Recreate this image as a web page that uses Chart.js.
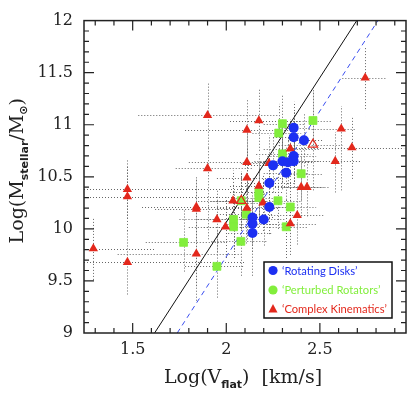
<!DOCTYPE html>
<html>
<head>
<meta charset="utf-8">
<script src="https://cdn.jsdelivr.net/npm/chart.js@4/dist/chart.umd.min.js"></script>
<style>
  html, body { margin: 0; padding: 0; background: #fff; }
  canvas { display: block; }
</style>
</head>
<body>
<canvas id="c" width="418" height="400"></canvas>
<script>
// ---------------- DATA ----------------
const xTicks = [1.5, 2, 2.5];
const yTicks = [9, 9.5, 10, 10.5, 11, 11.5, 12];

// 'Rotating Disks'
const rdX    = [2.36, 2.36, 2.415, 2.36, 2.36, 2.25, 2.30, 2.33, 2.32, 2.23, 2.23, 2.20, 2.14, 2.14, 2.14];
const rdY    = [10.97, 10.88, 10.85, 10.70, 10.65, 10.61, 10.65, 10.64, 10.54, 10.44, 10.21, 10.09, 10.11, 10.05, 9.96];
const rdXlo  = [2.28, 2.25, 2.33, 2.22, 2.20, 2.10, 2.15, 2.18, 2.20, 2.10, 2.12, 2.08, 2.02, 1.99, 2.01];
const rdXhi  = [2.45, 2.44, 2.52, 2.48, 2.50, 2.38, 2.42, 2.46, 2.44, 2.36, 2.33, 2.31, 2.26, 2.27, 2.25];
const rdYlo  = [10.70, 10.62, 10.60, 10.45, 10.40, 10.35, 10.38, 10.40, 10.28, 10.18, 9.95, 9.84, 9.85, 9.78, 9.55];
const rdYhi  = [11.22, 11.12, 11.10, 10.95, 10.90, 10.88, 10.92, 10.88, 10.80, 10.70, 10.46, 10.34, 10.36, 10.30, 10.22];

// 'Perturbed Rotators'
const prX    = [2.30, 2.28, 2.463, 2.30, 2.40, 2.174, 2.174, 2.276, 2.08, 2.342, 2.107, 2.039, 2.039, 2.32, 2.078, 1.772, 1.95];
const prY    = [11.01, 10.92, 11.04, 10.72, 10.53, 10.35, 10.30, 10.27, 10.27, 10.21, 10.14, 10.09, 10.02, 10.02, 9.88, 9.87, 9.64];
const prXlo  = [2.20, 2.14, 2.36, 2.16, 2.28, 2.02, 2.05, 2.15, 1.92, 2.22, 1.95, 1.85, 1.88, 2.20, 1.92, 1.57, 1.78];
const prXhi  = [2.42, 2.40, 2.56, 2.45, 2.52, 2.30, 2.29, 2.40, 2.22, 2.48, 2.25, 2.20, 2.18, 2.44, 2.22, 2.00, 2.10];
const prYlo  = [10.75, 10.65, 10.78, 10.45, 10.28, 10.08, 10.02, 10.00, 9.98, 9.95, 9.86, 9.80, 9.72, 9.72, 9.55, 9.59, 9.34];
const prYhi  = [11.28, 11.20, 11.33, 11.00, 10.78, 10.62, 10.58, 10.54, 10.55, 10.48, 10.42, 10.38, 10.30, 10.28, 10.20, 10.19, 9.98];

// 'Complex Kinematics'  (open = hollow symbol)
const ckX    = [1.90, 2.174, 2.11, 2.614, 2.742, 2.463, 2.342, 2.671, 2.582, 2.11, 2.228, 1.90, 2.11, 2.174, 2.40, 2.431, 1.472, 1.472, 2.036, 2.196, 1.84, 1.84, 2.11, 2.379, 1.95, 1.996, 2.342, 1.29, 1.84, 1.472, 2.08];
const ckY    = [11.09, 11.04, 10.95, 10.96, 11.45, 10.81, 10.77, 10.78, 10.65, 10.64, 10.63, 10.58, 10.49, 10.41, 10.40, 10.40, 10.38, 10.31, 10.27, 10.25, 10.21, 10.19, 10.20, 10.13, 10.09, 10.02, 10.05, 9.81, 9.76, 9.68, 10.27];
const ckXlo  = [1.53, 2.02, 1.78, 2.44, 2.62, 2.28, 2.20, 2.34, 2.42, 1.80, 2.08, 1.73, 1.95, 2.02, 2.26, 2.30, 1.24, 1.24, 1.85, 2.05, 1.55, 1.62, 1.95, 2.24, 1.75, 1.80, 2.20, 1.24, 1.42, 1.24, 1.95];
const ckXhi  = [2.28, 2.40, 2.34, 2.69, 2.855, 2.62, 2.50, 2.95, 2.72, 2.39, 2.36, 2.14, 2.30, 2.32, 2.52, 2.55, 2.12, 2.05, 2.20, 2.34, 2.12, 2.05, 2.28, 2.52, 2.15, 2.18, 2.48, 1.62, 2.08, 2.10, 2.22];
const ckYlo  = [10.78, 10.75, 10.62, 10.37, 11.15, 10.37, 10.50, 10.48, 10.35, 10.35, 10.35, 9.90, 10.18, 10.12, 10.12, 10.12, 10.10, 9.98, 9.98, 9.98, 9.88, 9.31, 9.90, 9.85, 9.78, 9.72, 9.75, 9.51, 9.45, 9.37, 10.00];
const ckYhi  = [11.40, 11.35, 11.24, 11.18, 11.74, 11.35, 11.05, 11.07, 10.93, 10.93, 10.90, 10.78, 10.78, 10.70, 10.68, 10.66, 10.67, 10.60, 10.56, 10.52, 10.51, 10.48, 10.50, 10.42, 10.38, 10.30, 10.32, 10.10, 10.05, 10.00, 10.55];
const ckOpen = [0, 0, 0, 0, 0, 1, 0, 0, 0, 0, 0, 0, 0, 0, 0, 0, 0, 0, 0, 0, 0, 0, 0, 0, 0, 0, 0, 0, 0, 0, 1];

// relations (two end points each)
const solidX  = [1.617, 2.697];
const solidY  = [9, 12];
const dashedX = [1.738, 2.81];
const dashedY = [9, 12];

const legendLabels = ['\u2018Rotating Disks\u2019', '\u2018Perturbed Rotators\u2019', '\u2018Complex Kinematics\u2019'];

// ---------------- STYLE ----------------
const BLUE = '#1c2ff2';
const GREEN = '#82ee3c';
const RED = '#e3281c';
const SERIF = '"DejaVu Serif", serif';

const pts = (xs, ys) => xs.map((x, i) => ({ x: x, y: ys[i] }));

const series = [
  { x: rdX, y: rdY, xlo: rdXlo, xhi: rdXhi, ylo: rdYlo, yhi: rdYhi },
  { x: prX, y: prY, xlo: prXlo, xhi: prXhi, ylo: prYlo, yhi: prYhi },
  { x: ckX, y: ckY, xlo: ckXlo, xhi: ckXhi, ylo: ckYlo, yhi: ckYhi }
];

function drawRich(ctx, parts, size, subSize, cx, baseY) {
  let w = 0;
  parts.forEach(p => {
    ctx.font = p.sub ? ('bold ' + subSize + 'px "DejaVu Sans", sans-serif') : (size + 'px ' + SERIF);
    p.w = ctx.measureText(p.t).width;
    w += p.w;
  });
  let x = cx - w / 2;
  ctx.textAlign = 'left';
  ctx.textBaseline = 'alphabetic';
  parts.forEach(p => {
    ctx.font = p.sub ? ('bold ' + subSize + 'px "DejaVu Sans", sans-serif') : (size + 'px ' + SERIF);
    ctx.fillText(p.t, x, baseY + (p.sub ? p.off : 0));
    x += p.w;
  });
}

const decor = {
  id: 'decor',
  beforeDatasetsDraw(chart) {
    const { ctx, chartArea: a, scales: { x: sx, y: sy } } = chart;
    ctx.save();
    ctx.beginPath();
    ctx.rect(a.left, a.top, a.right - a.left, a.bottom - a.top);
    ctx.clip();
    ctx.strokeStyle = '#666';
    ctx.lineWidth = 1;
    ctx.setLineDash([1, 2]);
    series.forEach(s => {
      s.x.forEach((xv, i) => {
        const px = Math.round(sx.getPixelForValue(xv)) + 0.5;
        const py = Math.round(sy.getPixelForValue(s.y[i])) + 0.5;
        ctx.beginPath();
        ctx.moveTo(sx.getPixelForValue(s.xlo[i]), py);
        ctx.lineTo(sx.getPixelForValue(s.xhi[i]), py);
        ctx.moveTo(px, sy.getPixelForValue(s.ylo[i]));
        ctx.lineTo(px, sy.getPixelForValue(s.yhi[i]));
        ctx.stroke();
      });
    });
    ctx.restore();
  },
  afterDraw(chart) {
    const { ctx, chartArea: a, scales: { x: sx, y: sy } } = chart;
    ctx.save();
    // frame
    ctx.strokeStyle = '#222';
    ctx.lineWidth = 1.5;
    ctx.setLineDash([]);
    ctx.strokeRect(a.left, a.top, a.right - a.left, a.bottom - a.top);
    // inside ticks
    ctx.lineWidth = 1.2;
    ctx.beginPath();
    for (let k = 13; k <= 29; k++) {
      const v = k / 10;
      const px = sx.getPixelForValue(v);
      const L = (k % 5 === 0) ? 10 : 5;
      ctx.moveTo(px, a.bottom); ctx.lineTo(px, a.bottom - L);
      ctx.moveTo(px, a.top); ctx.lineTo(px, a.top + L);
    }
    for (let k = 91; k <= 119; k++) {
      const v = k / 10;
      const py = sy.getPixelForValue(v);
      const L = (k % 5 === 0) ? 10 : 5;
      ctx.moveTo(a.left, py); ctx.lineTo(a.left + L, py);
      ctx.moveTo(a.right, py); ctx.lineTo(a.right - L, py);
    }
    ctx.stroke();

    // axis titles
    ctx.fillStyle = '#222';
    drawRich(ctx, [
      { t: 'Log(V' }, { t: 'flat', sub: true, off: 5 }, { t: ')  [km/s]' }
    ], 19, 11, (a.left + a.right) / 2 - 2, 383);

    ctx.save();
    ctx.translate(23, (a.top + a.bottom) / 2 - 6);
    ctx.rotate(-Math.PI / 2);
    drawRich(ctx, [
      { t: 'Log(M' }, { t: 'stellar', sub: true, off: 5 }, { t: '/M' }, { t: '\u2299', sub: true, off: 4 }, { t: ')' }
    ], 19, 11, 0, 0);
    ctx.restore();

    // legend
    const bx = 264, by = 262, bw = 128, bh = 56;
    ctx.strokeStyle = '#111';
    ctx.lineWidth = 1.5;
    ctx.strokeRect(bx, by, bw, bh);
    const colors = [BLUE, GREEN, RED];
    const rows = [270.5, 290, 309];
    ctx.font = '11.2px Lato, sans-serif';
    ctx.textBaseline = 'middle';
    ctx.textAlign = 'left';
    rows.forEach((ry, i) => {
      ctx.fillStyle = colors[i];
      ctx.beginPath();
      if (i < 2) {
        ctx.arc(273, ry, 4.6, 0, Math.PI * 2);
      } else {
        ctx.moveTo(273, ry - 5);
        ctx.lineTo(277.5, ry + 3.5);
        ctx.lineTo(268.5, ry + 3.5);
        ctx.closePath();
      }
      ctx.fill();
      ctx.fillText(legendLabels[i], 282, ry + 0.5);
    });
    ctx.restore();
  }
};

new Chart(document.getElementById('c'), {
  type: 'scatter',
  data: {
    datasets: [
      { label: legendLabels[0], data: pts(rdX, rdY), pointStyle: 'circle', pointRadius: 5,
        backgroundColor: BLUE, borderColor: BLUE, borderWidth: 0 },
      { label: legendLabels[2], data: pts(ckX, ckY), pointStyle: 'triangle', pointRadius: 5.4,
        backgroundColor: ckOpen.map(o => o ? 'rgba(255,255,255,0)' : RED), borderColor: RED, borderWidth: ckOpen.map(o => o ? 1.2 : 0) },
      { label: legendLabels[1], data: pts(prX, prY), pointStyle: 'rect', pointRadius: 5.6,
        backgroundColor: GREEN, borderColor: GREEN, borderWidth: 0.8, borderJoinStyle: 'round' },
      { type: 'line', label: 'solid', data: pts(solidX, solidY), borderColor: '#111', borderWidth: 1,
        pointRadius: 0, fill: false },
      { type: 'line', label: 'dashed', data: pts(dashedX, dashedY), borderColor: '#3a4ef0', borderWidth: 1,
        borderDash: [5, 4], pointRadius: 0, fill: false }
    ]
  },
  options: {
    responsive: false,
    animation: false,
    events: [],
    layout: { padding: { top: 12, right: 12, left: 0, bottom: 0 } },
    plugins: { legend: { display: false }, tooltip: { enabled: false } },
    scales: {
      x: {
        type: 'linear', min: 1.24, max: 2.96,
        afterBuildTicks: s => { s.ticks = xTicks.map(v => ({ value: v })); },
        afterFit: s => { s.height = 67; },
        grid: { display: false, drawTicks: false },
        border: { display: false },
        ticks: { font: { family: SERIF, size: 16 }, color: '#222', padding: 7, maxRotation: 0, callback: v => String(v) }
      },
      y: {
        type: 'linear', min: 9, max: 12,
        afterBuildTicks: s => { s.ticks = yTicks.map(v => ({ value: v })); },
        afterFit: s => { s.width = 84; },
        grid: { display: false, drawTicks: false },
        border: { display: false },
        ticks: { font: { family: SERIF, size: 16 }, color: '#222', padding: 11, callback: v => String(v) }
      }
    }
  },
  plugins: [decor]
});
</script>
</body>
</html>
